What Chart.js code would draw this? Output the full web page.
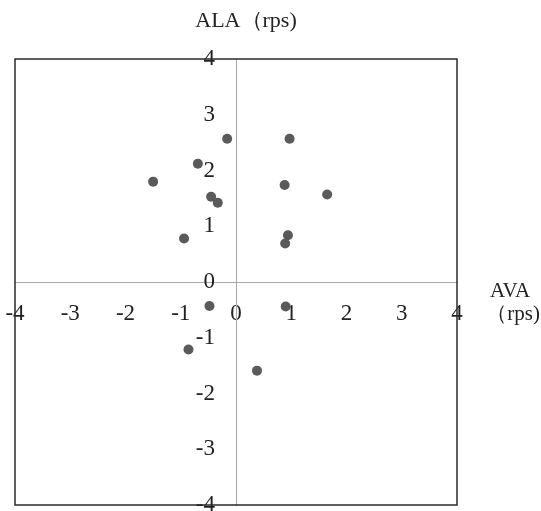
<!DOCTYPE html>
<html>
<head>
<meta charset="utf-8">
<script src="https://cdn.jsdelivr.net/npm/chart.js@4"></script>
<style>
  html, body { margin: 0; padding: 0; background: #fff; }
  #wrap { width: 541px; height: 511px; }
</style>
</head>
<body>
<div id="wrap"><canvas id="chartScatter"></canvas></div>
<script>
// AVA / ALA pairs (rps)
var avaValues = [-0.16, 0.97, -0.69, -1.50, 0.88, 1.65, -0.45, -0.33, -0.94, 0.94, 0.89, -0.48, 0.90, -0.86, 0.38];
var alaValues = [2.57, 2.57, 2.12, 1.80, 1.74, 1.57, 1.53, 1.42, 0.78, 0.84, 0.69, -0.43, -0.44, -1.21, -1.59];
var axisMin = -4;
var axisMax = 4;
var xTitle = 'AVA';
var xUnit = '（rps)';
var yTitle = 'ALA（rps)';

var points = [];
for (var i = 0; i < avaValues.length; i++) {
    points.push({x: avaValues[i], y: alaValues[i]});
}

var serif = '"Liberation Serif", "DejaVu Serif", serif';

// centre axes should not eat into the plot area
function flatten(scale) {
    if (scale.isHorizontal()) {
        scale.height = 0;
    } else {
        scale.width = 0;
    }
    scale.paddingTop = 0;
    scale.paddingBottom = 0;
    scale.paddingLeft = 0;
    scale.paddingRight = 0;
}

var frameAndTitles = {
    id: 'frameAndTitles',
    afterDraw: function(chart) {
        var ctx = chart.ctx;
        var area = chart.chartArea;
        ctx.save();
        ctx.strokeStyle = '#2a2a2a';
        ctx.lineWidth = 1.5;
        ctx.strokeRect(area.left, area.top, area.right - area.left, area.bottom - area.top);

        ctx.fillStyle = '#222';
        ctx.font = '22px ' + serif;
        ctx.textBaseline = 'middle';
        ctx.textAlign = 'center';
        ctx.fillText(yTitle, chart.scales.x.getPixelForValue(0) + 10, 21);

        var yZero = chart.scales.y.getPixelForValue(0);
        ctx.font = '21px ' + serif;
        ctx.fillText(xTitle, area.right + 53, yZero + 9);
        ctx.textAlign = 'right';
        ctx.fillText(xUnit, 540, yZero + 32);
        ctx.restore();
    }
};

new Chart(document.getElementById('chartScatter'), {
    type: 'scatter',
    data: {
        datasets: [{
            label: 'ALA',
            data: points,
            backgroundColor: '#5a5a5a',
            borderColor: '#5a5a5a',
            borderWidth: 0,
            pointRadius: 5,
            pointHoverRadius: 5
        }]
    },
    options: {
        responsive: true,
        maintainAspectRatio: false,
        animation: false,
        layout: {
            padding: {left: 15, top: 59, right: 84, bottom: 6}
        },
        plugins: {
            legend: {display: false},
            tooltip: {enabled: false}
        },
        scales: {
            x: {
                type: 'linear',
                position: 'center',
                min: axisMin,
                max: axisMax,
                afterFit: flatten,
                grid: {display: false, drawTicks: false},
                border: {display: true, color: '#a8a8a8', width: 1},
                ticks: {
                    stepSize: 1,
                    padding: 18,
                    color: '#222',
                    font: {family: serif, size: 23}
                }
            },
            y: {
                type: 'linear',
                position: 'center',
                min: axisMin,
                max: axisMax,
                afterFit: flatten,
                grid: {display: false, drawTicks: false},
                border: {display: true, color: '#a8a8a8', width: 1},
                ticks: {
                    stepSize: 1,
                    padding: 21,
                    color: '#222',
                    font: {family: serif, size: 23}
                }
            }
        }
    },
    plugins: [frameAndTitles]
});
</script>
</body>
</html>
